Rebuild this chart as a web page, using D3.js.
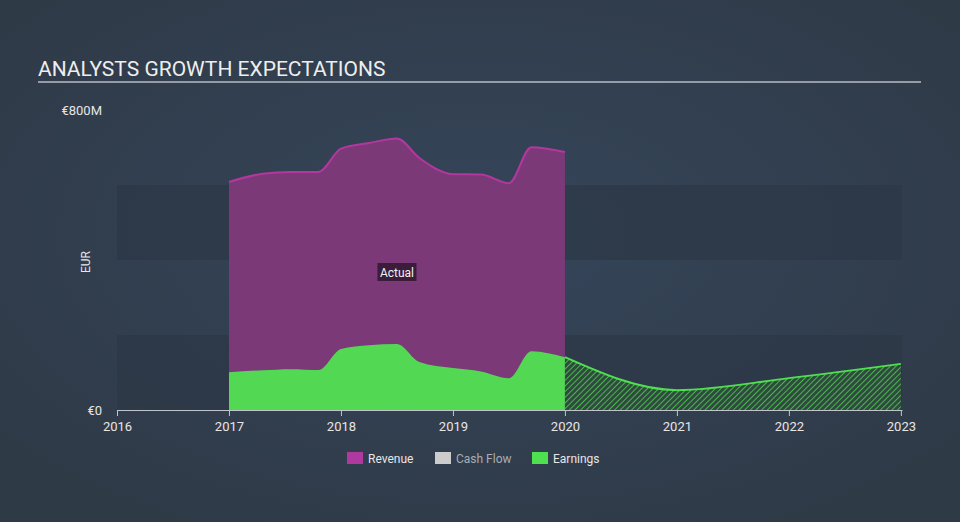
<!DOCTYPE html>
<html><head><meta charset="utf-8">
<script src="https://cdn.jsdelivr.net/npm/d3@7/dist/d3.min.js"></script>
<style>body{margin:0;background:#333f4f;}svg{display:block;font-family:Roboto,"Open Sans",sans-serif;}</style>
</head><body><svg id="c" width="960" height="522"></svg>
<script>
const revenueYears = [2017.0, 2017.3, 2017.55, 2017.8, 2018.0, 2018.25, 2018.5, 2018.7, 2019.0, 2019.25, 2019.5, 2019.7, 2020.0];
const revenueVals  = [608, 630, 635, 635, 697, 712, 724, 672, 629, 628, 605, 701, 688];
const earnYears = [2017.0, 2017.3, 2017.55, 2017.8, 2018.0, 2018.25, 2018.5, 2018.7, 2019.0, 2019.25, 2019.5, 2019.7, 2020.0];
const earnVals  = [101, 106, 109, 107, 163, 173, 176, 128, 112, 103, 85, 157, 141];
const forecastYears = [2020.0, 2021.0, 2022.0, 2023.0];
const forecastVals  = [141, 53, 85, 123];
const xTicks = [2016, 2017, 2018, 2019, 2020, 2021, 2022, 2023];
const yTickLabels = ["€0", "€800M"];
const yTickVals = [0, 800];
const bands = [[0, 200], [400, 600]];
const legendItems = ["Revenue", "Cash Flow", "Earnings"];
const legendColors = ["#b0399f", "#cccccc", "#4fe04f"];

const svg = d3.select("#c");
const defs = svg.append("defs");
const rg = defs.append("radialGradient").attr("id","bg").attr("cx","50%").attr("cy","45%").attr("r","65%");
rg.append("stop").attr("offset","0%").attr("stop-color","#35455a");
rg.append("stop").attr("offset","100%").attr("stop-color","#2f3a47");
svg.append("rect").attr("width",960).attr("height",522).attr("fill","url(#bg)");

const pat = defs.append("pattern").attr("id","hatch").attr("patternUnits","userSpaceOnUse")
  .attr("width",4).attr("height",4).attr("patternTransform","rotate(45)");
pat.append("rect").attr("width",4).attr("height",4).attr("fill","#2f4a3f");
pat.append("line").attr("x1",0).attr("y1",0).attr("x2",0).attr("y2",4).attr("stroke","#4fd24f").attr("stroke-width",1.6);

const x = d3.scaleLinear().domain([2016, 2023.01]).range([117, 902]);
const y = d3.scaleLinear().domain([0, 800]).range([410, 110]);

// bands
svg.selectAll(".band").data(bands).enter().append("rect")
  .attr("x", x(2016)).attr("width", x(2023.01)-x(2016))
  .attr("y", d=>y(d[1])).attr("height", d=>y(d[0])-y(d[1]))
  .attr("fill","#2c3846").attr("opacity",0.7);

// title
svg.append("text").attr("x",38).attr("y",76).attr("fill","#eeeeee").attr("font-size",21).text("ANALYSTS GROWTH EXPECTATIONS");
svg.append("line").attr("x1",38).attr("x2",921).attr("y1",82).attr("y2",82).attr("stroke","#b8bcc2").attr("stroke-width",1.5);

// y labels
svg.selectAll(".yl").data(yTickVals).enter().append("text")
  .attr("x",102).attr("y",d=>y(d)+5).attr("text-anchor","end").attr("fill","#e6e6e6").attr("font-size",13)
  .text((d,i)=>yTickLabels[i]);
svg.append("text").attr("transform","translate(90,262) rotate(-90)").attr("text-anchor","middle")
  .attr("fill","#e6e6e6").attr("font-size",12).text("EUR");

const curve = d3.curveMonotoneX;
const rev = revenueYears.map((t,i)=>[t,revenueVals[i]]);
const earn = earnYears.map((t,i)=>[t,earnVals[i]]);
const fc = forecastYears.map((t,i)=>[t,forecastVals[i]]);
const area = d3.area().x(d=>x(d[0])).y0(y(0)).y1(d=>y(d[1])).curve(curve);
const line = d3.line().x(d=>x(d[0])).y(d=>y(d[1])).curve(curve);

svg.append("path").attr("d",area(rev)).attr("fill","#7b3978");
svg.append("path").attr("d",line(rev)).attr("fill","none").attr("stroke","#b4379f").attr("stroke-width",2);
svg.append("path").attr("d",area(earn)).attr("fill","#52d853");
svg.append("path").attr("d",area(fc)).attr("fill","url(#hatch)");
svg.append("path").attr("d",line(fc)).attr("fill","none").attr("stroke","#4fe04f").attr("stroke-width",2);

// Actual label
const ag = svg.append("g").attr("transform",`translate(${x(2018.5)},272)`);
ag.append("rect").attr("x",-19.5).attr("y",-9).attr("width",39).attr("height",18).attr("fill","#3b1c3a");
ag.append("text").attr("text-anchor","middle").attr("y",4.5).attr("fill","#f0f0f0").attr("font-size",12).text("Actual");

// x axis
const ax = svg.append("g").attr("transform","translate(0,410)")
  .call(d3.axisBottom(x).tickValues(xTicks).tickFormat(d3.format("d")).tickSize(6).tickSizeOuter(0));
ax.select(".domain").attr("stroke","#c0c4cc");
ax.selectAll(".tick line").attr("stroke","#c0c4cc");
ax.selectAll(".tick text").attr("fill","#e6e6e6").attr("font-size",13).attr("dy","0.9em").attr("font-family","Roboto,sans-serif");

// legend
const lx = [347, 435, 532];
const lg = svg.selectAll(".lg").data(legendItems).enter().append("g").attr("transform",(d,i)=>`translate(${lx[i]},452)`);
lg.append("rect").attr("width",16).attr("height",12).attr("fill",(d,i)=>legendColors[i]);
lg.append("text").attr("x",21).attr("y",10.5).attr("font-size",12)
  .attr("fill",(d,i)=>i===1?"#a9adb3":"#e6e6e6").text(d=>d);
</script></body></html>
